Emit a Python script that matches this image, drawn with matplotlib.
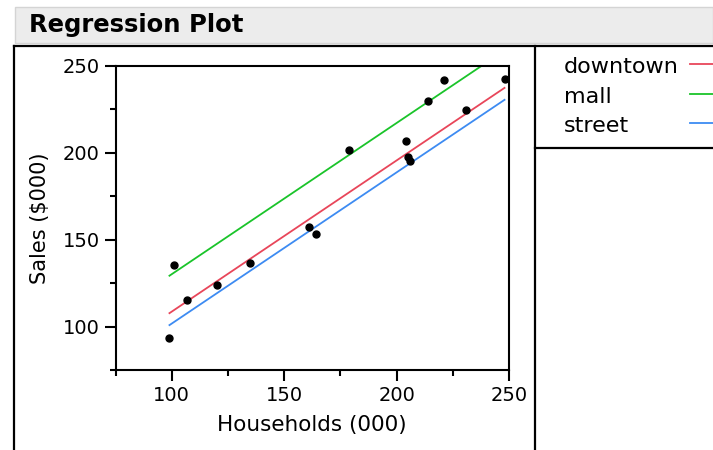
import numpy as np
import matplotlib.pyplot as plt
from matplotlib.lines import Line2D
from matplotlib.patches import Rectangle

# store data: households (000), sales ($000), location
households = [161, 99, 135, 120, 164, 221, 179, 204, 214, 101, 231, 206, 248, 107, 205]
sales = [157.27, 93.28, 136.81, 123.79, 153.51, 241.74, 201.54, 206.71, 229.78,
         135.22, 224.71, 195.29, 242.16, 115.21, 197.82]
location = ["street"] * 5 + ["mall"] * 5 + ["downtown"] * 5

groups = ["downtown", "mall", "street"]
colors = {"downtown": "#e8465a", "mall": "#1ac42a", "street": "#3d8bf2"}

W, H = 713, 450


def fx(px):
    return px / W


def fy(py):
    return 1 - py / H


# parallel-lines fit: common slope, one intercept per location
x = np.array(households, float)
y = np.array(sales, float)
loc = np.array(location)
X = np.column_stack([x] + [(loc == g).astype(float) for g in groups])
coef, *_ = np.linalg.lstsq(X, y, rcond=None)
slope = coef[0]
intercepts = dict(zip(groups, coef[1:]))

fig = plt.figure(figsize=(W / 100, H / 100), dpi=100)
plt.rcParams['font.family'] = ['DejaVu Sans']

# title bar
fig.add_artist(Rectangle((fx(15), fy(43)), fx(W - 15), 36 / H, transform=fig.transFigure,
                         facecolor="#ececec", edgecolor="#d4d4d4", lw=1))
fig.text(fx(29), fy(25), "Regression Plot", fontsize=17.5, fontweight="bold",
         va="center", ha="left")

# outline boxes
k = dict(color="black", lw=1.6, transform=fig.transFigure)
fig.add_artist(Line2D([fx(13.5), fx(13.5)], [fy(46), 0], **k))
fig.add_artist(Line2D([fx(13.5), 1], [fy(46), fy(46)], **k))
fig.add_artist(Line2D([fx(534.5), fx(534.5)], [fy(46), 0], **k))
fig.add_artist(Line2D([fx(534.5), 1], [fy(148), fy(148)], **k))

ax = fig.add_axes([fx(115.5), fy(370.3), fx(509 - 115.5), (370.3 - 65.7) / H])
xs = np.array([x.min(), x.max()])
for g in groups:
    ax.plot(xs, intercepts[g] + slope * xs, color=colors[g], lw=1.3)
ax.plot(x, y, "o", color="black", markersize=5, zorder=3)

ax.set_xlim(75, 250)
ax.set_ylim(75, 250)
ax.set_xticks([100, 150, 200, 250])
ax.set_xticks([75, 125, 175, 225], minor=True)
ax.set_yticks([100, 150, 200, 250])
ax.set_yticks([75, 125, 175, 225], minor=True)
ax.tick_params(which="major", length=8, width=1.5, labelsize=14)
ax.tick_params(which="minor", length=4, width=1.5)
for s in ax.spines.values():
    s.set_linewidth(1.5)
ax.set_xlabel("Households (000)", fontsize=15.5, labelpad=7)
ax.set_ylabel("Sales ($000)", fontsize=15, labelpad=9)

# legend panel
for g, py in zip(groups, [67, 97, 126]):
    fig.text(fx(564), fy(py), g, fontsize=16, va="center", ha="left")
    fig.add_artist(Line2D([fx(690), 1], [fy(py - 3), fy(py - 3)], color=colors[g],
                          lw=1.3, transform=fig.transFigure))

fig.savefig("out.png", dpi=100)
